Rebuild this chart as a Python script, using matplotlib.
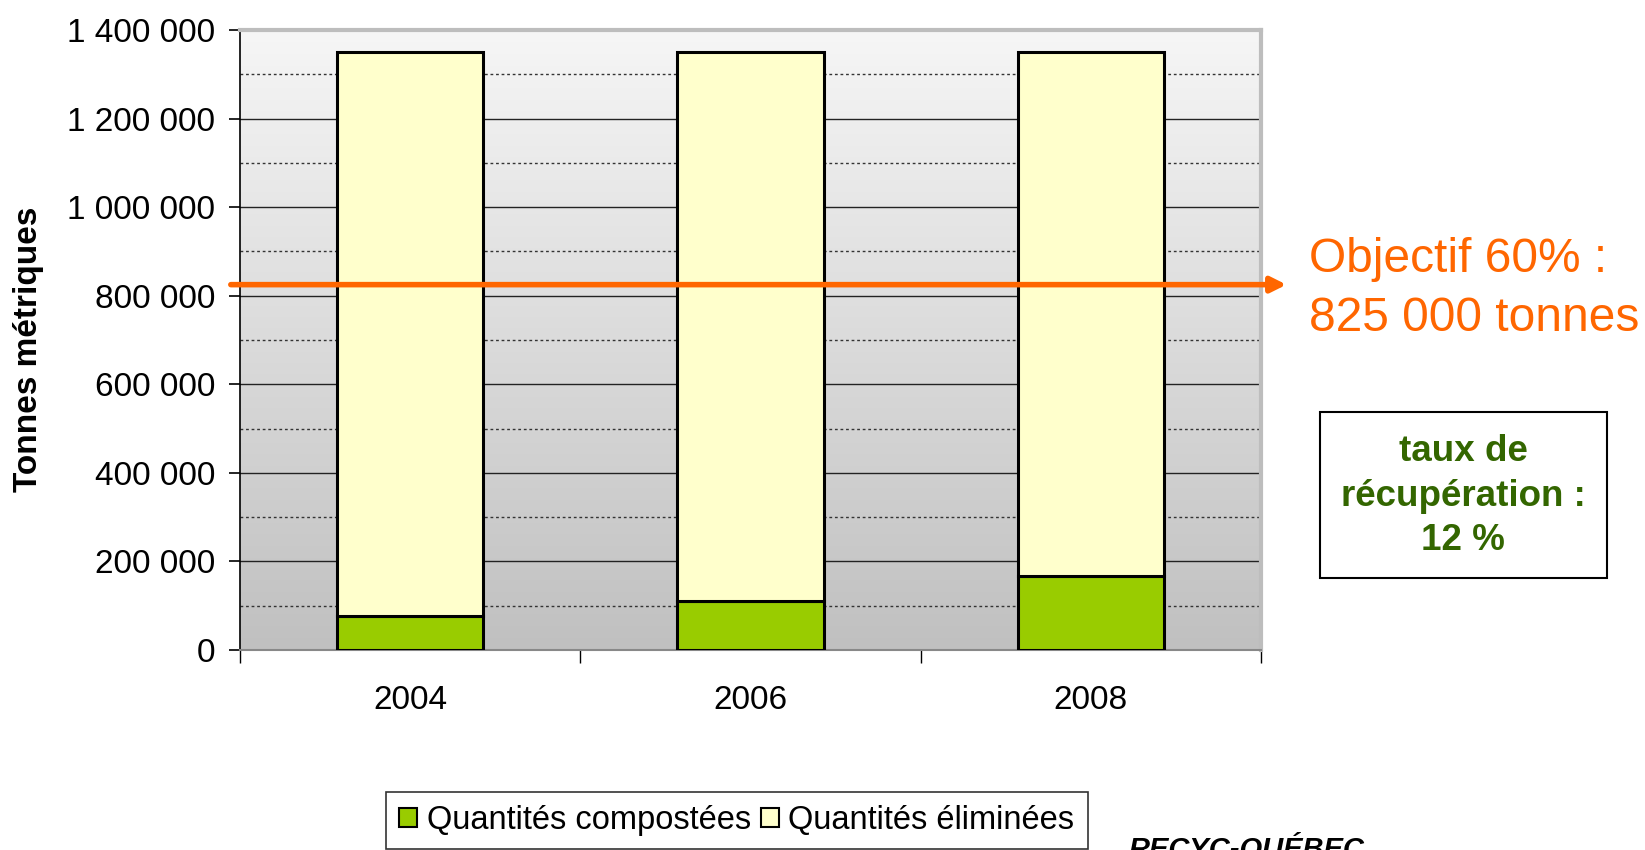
import numpy as np
import matplotlib
matplotlib.use("Agg")
import matplotlib.pyplot as plt
from matplotlib.patches import Rectangle, Patch
from matplotlib.ticker import MultipleLocator, FuncFormatter
from matplotlib.colors import LinearSegmentedColormap

plt.rcParams['font.family'] = ['Liberation Sans', 'DejaVu Sans']

years = ["2004", "2006", "2008"]
composted = [76000, 111000, 167000]
eliminated = [1274000, 1239000, 1183000]
objective = 825000
series_labels = ["Quantités compostées", "Quantités éliminées"]
ylabel = "Tonnes métriques"
objective_text = "Objectif 60% :\n825 000 tonnes"
rate_text = "taux de\nrécupération :\n12 %"
logo_text = "RECYC-QUÉBEC"

green = "#99CC00"
yellow = "#FFFFCC"
orange = "#FF6600"
dgreen = "#336600"

fig = plt.figure(figsize=(16.45, 8.5), dpi=100)
ax = fig.add_axes([240/1645, 200/850, 1021/1645, 620/850])

# gradient background
grad = np.linspace(0, 1, 256).reshape(-1, 1)
cmap = LinearSegmentedColormap.from_list("g", ["#f6f6f6", "#c0c0c0"])
ax.imshow(grad, extent=[0, 1, 0, 1], transform=ax.transAxes, cmap=cmap,
          aspect='auto', zorder=0, origin='upper')

x = np.arange(len(years))
ax.set_xlim(-0.5, 2.5)
ax.set_ylim(0, 1400000)

# grid
ax.yaxis.set_major_locator(MultipleLocator(200000))
ax.yaxis.set_minor_locator(MultipleLocator(100000))
ax.grid(which='major', axis='y', color='#222222', lw=1.0, zorder=1)
ax.grid(which='minor', axis='y', color='#333333', lw=1.0, ls=(0, (2, 2)), zorder=1)
ax.tick_params(axis='y', which='minor', length=0)

w = 0.43
ax.bar(x, composted, w, color=green, edgecolor='black', lw=2.2, zorder=3,
       label=series_labels[0])
ax.bar(x, eliminated, w, bottom=composted, color=yellow, edgecolor='black',
       lw=2.2, zorder=3, label=series_labels[1])

ax.yaxis.set_major_formatter(FuncFormatter(lambda v, p: f"{int(v):,}".replace(",", " ")))
ax.tick_params(axis='y', which='major', labelsize=24, length=8, width=1.2,
               direction='out', pad=10)

# x ticks at category boundaries, labels at centers
ax.set_xticks([-0.5, 0.5, 1.5, 2.5])
ax.set_xticklabels([])
ax.set_xticks(x, minor=True)
ax.set_xticklabels(years, minor=True, fontsize=24)
ax.tick_params(axis='x', which='major', length=9, width=1.0, direction='out')
ax.tick_params(axis='x', which='minor', length=0, pad=25)

for s in ['top', 'right']:
    ax.spines[s].set_color('#bdbdbd')
    ax.spines[s].set_linewidth(3)
ax.spines['left'].set_color('black')
ax.spines['left'].set_linewidth(1.2)
ax.spines['bottom'].set_color('#888888')
ax.spines['bottom'].set_linewidth(1.5)

ax.set_ylabel(ylabel, fontsize=24, fontweight='bold')
ax.yaxis.set_label_coords(-196/1021, 0.485)

# objective arrow
ax.annotate("", xy=(2.575, objective), xytext=(-0.527, objective),
            xycoords='data', textcoords='data', annotation_clip=False,
            arrowprops=dict(arrowstyle='-|>,head_length=0.9,head_width=0.45',
                            color=orange, lw=4, shrinkA=0, shrinkB=0), zorder=5)

fig.text(1309/1645, 1 - 289/850, objective_text, color=orange, fontsize=34.5,
         ha='left', va='center', linespacing=1.42)

# rate box
fig.patches.append(Rectangle((1320/1645, 1 - 578/850), 287/1645, 166/850,
                             transform=fig.transFigure, facecolor='white',
                             edgecolor='black', lw=1.5))
fig.text(1463/1645, 1 - 496/850, rate_text, color=dgreen, fontsize=26.5,
         fontweight='bold', ha='center', va='center', linespacing=1.36)

# legend
leg = fig.legend(handles=[Patch(facecolor=green, edgecolor='black', lw=1.5),
                          Patch(facecolor=yellow, edgecolor='black', lw=1.5)],
                 labels=series_labels, loc='upper left',
                 bbox_to_anchor=(386/1645, 1 - 792/850), ncol=2, fontsize=23.5,
                 frameon=True, fancybox=False, edgecolor='black',
                 handlelength=0.55, handleheight=0.55, handletextpad=0.3,
                 columnspacing=0.3, borderpad=0.4, borderaxespad=0)
leg.get_frame().set_linewidth(1.2)

fig.text(1128/1645, 1 - 858/850, logo_text, fontsize=21, fontweight='bold',
         style='italic', ha='left', va='baseline', color='black')

fig.savefig("out.png", dpi=100, facecolor='white')
